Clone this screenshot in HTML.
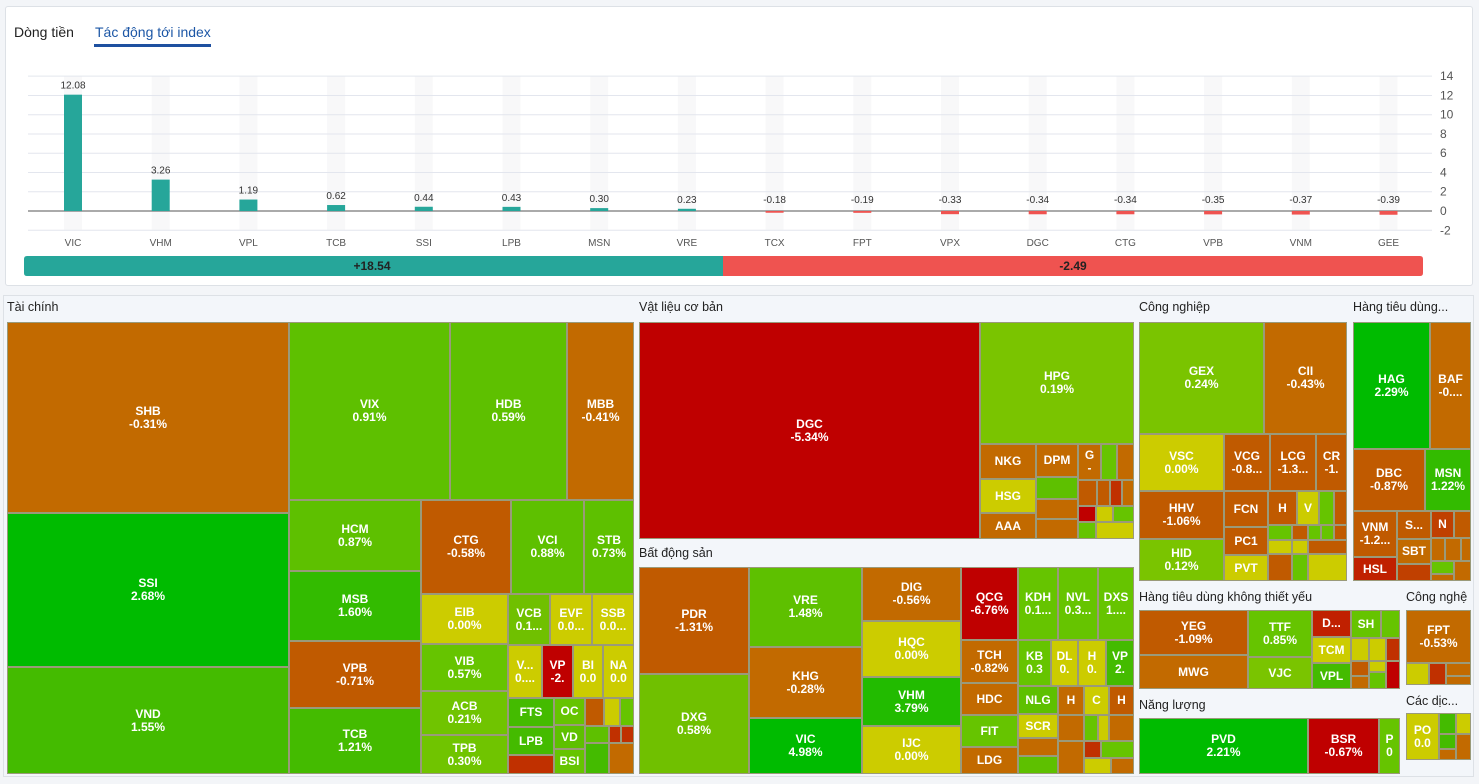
<!DOCTYPE html>
<html><head><meta charset="utf-8">
<style>
*{box-sizing:border-box;margin:0;padding:0}
body{width:1479px;height:784px;background:#f3f5f8;font-family:"Liberation Sans","Noto Sans CJK SC",sans-serif;position:relative;overflow:hidden}
#top{position:absolute;left:5px;top:6px;width:1468px;height:280px;background:#fff;border:1px solid #dde1e6;border-radius:3px}
.tab{position:absolute;top:17px;font-size:14px}
#tm{position:absolute;left:3px;top:295px;width:1471px;height:482px;background:#f3f6fa;border:1px solid #dde1e6}
.c{position:absolute;border:1px solid #9a9a7a;color:#fff;font-size:12px;font-weight:bold;text-align:center;display:flex;flex-direction:column;justify-content:center;line-height:13px;overflow:hidden;white-space:nowrap}
.h{position:absolute;font-size:12.5px;color:#222}
</style></head><body>
<div id="top">
<div class="tab" style="left:8px;color:#222">Dòng tiền</div>
<div class="tab" style="left:89px;color:#1d57a6">Tác động tới index</div>
<div style="position:absolute;left:88px;top:37px;width:117px;height:3px;background:#1e50a0"></div>
</div>
<svg id="chart" width="1479" height="290" style="position:absolute;left:0;top:0"></svg>
<div id="tm"></div>
<script>
const categories=["VIC","VHM","VPL","TCB","SSI","LPB","MSN","VRE","TCX","FPT","VPX","DGC","CTG","VPB","VNM","GEE"];
const values=[12.08,3.26,1.19,0.62,0.44,0.43,0.30,0.23,-0.18,-0.19,-0.33,-0.34,-0.34,-0.35,-0.37,-0.39];
const valueLabels=["12.08","3.26","1.19","0.62","0.44","0.43","0.30","0.23","-0.18","-0.19","-0.33","-0.34","-0.34","-0.35","-0.37","-0.39"];
const yTicks=[14,12,10,8,6,4,2,0,-2];
const totals=["+18.54","-2.49"];
const NS="http://www.w3.org/2000/svg";
const svg=document.getElementById('chart');
const y=v=>211-v*9.63;
const x=i=>73+i*87.7;
function mk(t,a){const e=document.createElementNS(NS,t);for(const k in a)e.setAttribute(k,a[k]);svg.appendChild(e);return e;}
categories.forEach((c,i)=>{const s=mk('rect',{x:x(i)-9,y:y(14),width:18,height:y(-2)-y(14),fill:'#f8f8f9'});

});
yTicks.forEach(t=>{const l=mk('line',{x1:28,x2:1432,y1:y(t),y2:y(t),stroke:t===0?'#555':'#e3e6ee','stroke-width':1});


const tx=mk('text',{x:1440,y:y(t)+4,'font-size':12,fill:'#555'});tx.textContent=t;

});
values.forEach((v,i)=>{const top=Math.min(y(v),y(0)),h=Math.abs(y(v)-y(0));
const r=mk('rect',{x:x(i)-9,y:top,width:18,height:Math.max(h,1),fill:v>=0?'#26a69a':'#ef5350'});


const ly=v>=0?y(v)-6:y(0)-8;
const t=mk('text',{x:x(i),y:ly,'font-size':10,fill:'#333','text-anchor':'middle'});t.textContent=valueLabels[i];


const c=mk('text',{x:x(i),y:246,'font-size':10,fill:'#555','text-anchor':'middle'});c.textContent=categories[i];

});
const g=mk('path',{d:'M27,256 H723 V276 H27 Q24,276 24,273 V259 Q24,256 27,256Z',fill:'#26a69a'});


const rd=mk('path',{d:'M723,256 H1420 Q1423,256 1423,259 V273 Q1423,276 1420,276 H723Z',fill:'#ef5350'});


[[372,totals[0]],[1073,totals[1]]].forEach(([px,s])=>{const t=mk('text',{x:px,y:270,'font-size':12,'font-weight':'bold',fill:'#222','text-anchor':'middle'});t.textContent=s;

});

const O='#c26a00',O2='#c05a00',R='#bf0000',RO='#c03000',Y='#cccc00',G1='#7ac400',G2='#5ec000',G3='#44bb00',G4='#00bb00',G5='#66c400';
const cells=[
[7,322,288,512,O,'SHB','-0.31%'],[7,513,288,666,G4,'SSI','2.68%'],[7,667,288,773,G3,'VND','1.55%'],
[289,322,449,499,G2,'VIX','0.91%'],[450,322,566,499,G2,'HDB','0.59%'],[567,322,633,499,O,'MBB','-0.41%'],
[289,500,420,570,G2,'HCM','0.87%'],[289,571,420,640,'#33bb00','MSB','1.60%'],[289,641,420,707,O2,'VPB','-0.71%'],[289,708,420,773,G3,'TCB','1.21%'],
[421,500,510,593,O2,'CTG','-0.58%'],[511,500,583,593,G2,'VCI','0.88%'],[584,500,633,593,G2,'STB','0.73%'],
[421,594,507,643,Y,'EIB','0.00%'],[421,644,507,690,G5,'VIB','0.57%'],[421,691,507,734,'#70c400','ACB','0.21%'],[421,735,507,773,'#70c400','TPB','0.30%'],
[508,594,549,644,'#70c000','VCB','0.1...'],[550,594,591,644,Y,'EVF','0.0...'],[592,594,633,644,Y,'SSB','0.0...'],
[508,645,541,697,Y,'V...','0....'],[542,645,572,697,R,'VP','-2.'],[573,645,602,697,Y,'BI','0.0'],[603,645,633,697,Y,'NA','0.0'],
[508,698,553,726,G3,'FTS',''],[508,727,553,754,G3,'LPB',''],[508,755,553,773,RO,'',''],
[554,698,584,724,G5,'OC',''],[554,725,584,748,G2,'VD',''],[554,749,584,773,G5,'BSI',''],
[585,698,603,725,O2,'',''],[604,698,619,725,Y,'',''],[620,698,633,725,G5,'',''],
[585,726,608,742,G2,'',''],[585,743,608,773,G3,'',''],[609,726,620,742,RO,'',''],[621,726,633,742,RO,'',''],[609,743,633,773,O,'',''],
[639,322,979,538,R,'DGC','-5.34%'],[980,322,1133,443,G1,'HPG','0.19%'],
[980,444,1035,478,O,'NKG',''],[1036,444,1077,476,O,'DPM',''],[1078,444,1100,479,O,'G','-'],[1101,444,1116,479,G5,'',''],[1117,444,1133,479,O,'',''],
[980,479,1035,512,Y,'HSG',''],[980,513,1035,538,O,'AAA',''],
[1036,477,1077,498,G2,'',''],[1036,499,1077,518,O,'',''],[1036,519,1077,538,O,'',''],
[1078,480,1096,505,O2,'',''],[1097,480,1109,505,O2,'',''],[1110,480,1121,505,RO,'',''],[1122,480,1133,505,O,'',''],
[1078,506,1095,521,R,'',''],[1096,506,1112,521,Y,'',''],[1113,506,1133,521,G5,'',''],[1078,522,1095,538,G5,'',''],[1096,522,1133,538,Y,'',''],
[639,567,748,673,O2,'PDR','-1.31%'],[639,674,748,773,'#70c000','DXG','0.58%'],
[749,567,861,646,G2,'VRE','1.48%'],[749,647,861,717,O,'KHG','-0.28%'],[749,718,861,773,G4,'VIC','4.98%'],
[862,567,960,620,O,'DIG','-0.56%'],[862,621,960,676,Y,'HQC','0.00%'],[862,677,960,725,'#22bb00','VHM','3.79%'],[862,726,960,773,Y,'IJC','0.00%'],
[961,567,1017,639,R,'QCG','-6.76%'],[1018,567,1057,639,G5,'KDH','0.1...'],[1058,567,1097,639,G5,'NVL','0.3...'],[1098,567,1133,639,G5,'DXS','1....'],
[961,640,1017,682,O,'TCH','-0.82%'],[961,683,1017,714,O,'HDC',''],[961,715,1017,746,G5,'FIT',''],[961,747,1017,773,O,'LDG',''],
[1018,640,1050,685,G5,'KB','0.3'],[1051,640,1077,685,Y,'DL','0.'],[1078,640,1105,685,Y,'H','0.'],[1106,640,1133,685,G3,'VP','2.'],
[1018,686,1057,713,G2,'NLG',''],[1018,714,1057,737,Y,'SCR',''],[1018,738,1057,755,O,'',''],[1018,756,1057,773,G2,'',''],
[1058,686,1083,714,O,'H',''],[1084,686,1108,714,Y,'C',''],[1109,686,1133,714,O2,'H',''],
[1058,715,1083,740,O,'',''],[1058,741,1083,773,O,'',''],[1084,715,1097,740,G5,'',''],[1098,715,1108,740,Y,'',''],[1109,715,1133,740,O,'',''],
[1084,741,1100,757,RO,'',''],[1101,741,1133,757,G5,'',''],[1084,758,1110,773,Y,'',''],[1111,758,1133,773,O,'',''],
[1139,322,1263,433,G1,'GEX','0.24%'],[1264,322,1346,433,O,'CII','-0.43%'],
[1139,434,1223,490,Y,'VSC','0.00%'],[1224,434,1269,490,O2,'VCG','-0.8...'],[1270,434,1315,490,O2,'LCG','-1.3...'],[1316,434,1346,490,O2,'CR','-1.'],
[1139,491,1223,538,O2,'HHV','-1.06%'],[1139,539,1223,580,G1,'HID','0.12%'],
[1224,491,1267,526,O2,'FCN',''],[1224,527,1267,554,O2,'PC1',''],[1224,555,1267,580,Y,'PVT',''],
[1268,491,1296,524,O2,'H',''],[1297,491,1318,524,Y,'V',''],[1319,491,1333,524,G5,'',''],[1334,491,1346,524,O2,'',''],
[1268,525,1291,539,G5,'',''],[1292,525,1307,539,O2,'',''],[1308,525,1320,539,G5,'',''],[1321,525,1333,539,G5,'',''],[1334,525,1346,539,O2,'',''],
[1268,540,1291,553,Y,'',''],[1292,540,1307,553,Y,'',''],[1308,540,1346,553,O2,'',''],[1268,554,1291,580,O2,'',''],[1292,554,1307,580,G5,'',''],[1308,554,1346,580,Y,'',''],
[1353,322,1429,448,G4,'HAG','2.29%'],[1430,322,1470,448,O,'BAF','-0....'],
[1353,449,1424,510,O2,'DBC','-0.87%'],[1425,449,1470,510,'#33bb00','MSN','1.22%'],
[1353,511,1396,556,O2,'VNM','-1.2...'],[1353,557,1396,580,'#c02000','HSL',''],
[1397,511,1430,538,O2,'S...',''],[1397,539,1430,563,O,'SBT',''],[1397,564,1430,580,'#c04000','',''],
[1431,511,1453,537,'#c04000','N',''],[1454,511,1470,537,O2,'',''],[1431,538,1444,560,O,'',''],[1445,538,1460,560,O,'',''],[1461,538,1470,560,O,'',''],
[1431,561,1453,573,G5,'',''],[1431,574,1453,580,O,'',''],[1454,561,1470,580,O,'',''],
[1139,610,1247,654,O2,'YEG','-1.09%'],[1139,655,1247,688,O,'MWG',''],
[1248,610,1311,656,G5,'TTF','0.85%'],[1248,657,1311,688,G1,'VJC',''],
[1312,610,1350,636,'#c02000','D...',''],[1312,637,1350,662,Y,'TCM',''],[1312,663,1350,688,G3,'VPL',''],
[1351,610,1380,637,G5,'SH',''],[1381,610,1399,637,G5,'',''],
[1351,638,1368,660,Y,'',''],[1369,638,1385,660,Y,'',''],[1386,638,1399,660,RO,'',''],
[1351,661,1368,675,O2,'',''],[1351,676,1368,688,O,'',''],[1369,661,1385,671,Y,'',''],[1369,672,1385,688,G5,'',''],[1386,661,1399,688,R,'',''],
[1139,718,1307,773,G4,'PVD','2.21%'],[1308,718,1378,773,R,'BSR','-0.67%'],[1379,718,1399,773,G5,'P','0'],
[1406,610,1470,662,O,'FPT','-0.53%'],[1406,663,1428,684,Y,'',''],[1429,663,1445,684,RO,'',''],[1446,663,1470,675,O,'',''],[1446,676,1470,684,O,'',''],
[1406,713,1438,759,Y,'PO','0.0'],[1439,713,1455,733,G3,'',''],[1456,713,1470,733,Y,'',''],[1439,734,1455,748,G3,'',''],[1456,734,1470,759,O,'',''],[1439,749,1455,759,O,'','']
];
const tm=document.getElementById('tm');
cells.forEach(c=>{const d=document.createElement('div');d.className='c';
d.style.left=(c[0]-4)+'px';d.style.top=(c[1]-296)+'px';d.style.width=(c[2]-c[0]+1)+'px';d.style.height=(c[3]-c[1]+1)+'px';d.style.background=c[4];
d.innerHTML=(c[5]?'<div>'+c[5]+'</div>':'')+(c[6]?'<div>'+c[6]+'</div>':'');


tm.appendChild(d);});
const heads=[[7,300,'Tài chính'],[639,300,'Vật liệu cơ bản'],[639,546,'Bất động sản'],[1139,300,'Công nghiệp'],[1353,300,'Hàng tiêu dùng...'],[1139,590,'Hàng tiêu dùng không thiết yếu'],[1406,590,'Công nghệ'],[1139,698,'Năng lượng'],[1406,694,'Các dịc...']];
heads.forEach(h=>{const d=document.createElement('div');d.className='h';d.style.left=(h[0]-4)+'px';d.style.top=(h[1]-296)+'px';d.textContent=h[2];


tm.appendChild(d);});
</script>
</body></html>
